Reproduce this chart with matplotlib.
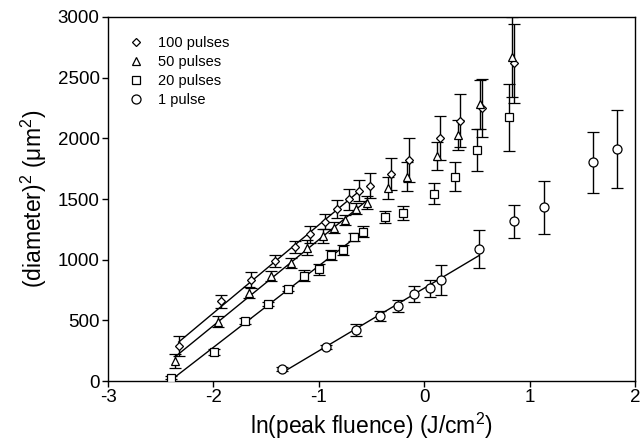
import numpy as np
import matplotlib
matplotlib.use("Agg")
import matplotlib.pyplot as plt
from matplotlib.lines import Line2D

plt.rcParams['font.family'] = ['Liberation Sans', 'DejaVu Sans']
plt.rcParams['mathtext.fontset'] = 'custom'
plt.rcParams['mathtext.rm'] = 'Liberation Sans'
plt.rcParams['mathtext.it'] = 'Liberation Sans'
plt.rcParams['axes.unicode_minus'] = False

# 100 pulses (diamonds)
x100 = [-2.33, -1.93, -1.645, -1.415, -1.23, -1.085, -0.94, -0.83, -0.715, -0.615,
        -0.515, -0.315, -0.14, 0.15, 0.34, 0.55, 0.855]
y100 = [288, 656, 832, 990, 1102, 1209, 1313, 1420, 1498, 1570,
        1610, 1706, 1821, 2005, 2146, 2247, 2618]
e100 = [85, 55, 67, 50, 50, 70, 62, 75, 85, 90,
        105, 135, 180, 180, 217, 238, 323]

# 50 pulses (triangles)
x50 = [-2.36, -1.96, -1.665, -1.45, -1.26, -1.11, -0.96, -0.855, -0.75, -0.645,
       -0.545, -0.34, -0.165, 0.125, 0.32, 0.525, 0.83]
y50 = [168, 490, 726, 868, 970, 1099, 1195, 1264, 1327, 1418,
       1470, 1588, 1684, 1854, 2027, 2280, 2673]
e50 = [58, 45, 45, 40, 40, 62, 55, 45, 45, 45,
       55, 90, 118, 115, 125, 203, 330]

# 20 pulses (squares)
x20 = [-2.40, -1.99, -1.70, -1.48, -1.29, -1.14, -1.0, -0.885, -0.775, -0.67,
       -0.58, -0.37, -0.2, 0.095, 0.295, 0.5, 0.8]
y20 = [28, 239, 497, 635, 760, 868, 920, 1038, 1082, 1186,
       1231, 1352, 1387, 1544, 1684, 1904, 2173]
e20 = [12, 25, 25, 20, 20, 45, 45, 40, 40, 35,
       45, 52, 59, 85, 118, 173, 275]

# 1 pulse (circles)
x1 = [-1.35, -0.93, -0.65, -0.42, -0.245, -0.095, 0.055, 0.16, 0.52,
      0.855, 1.135, 1.60, 1.83]
y1 = [99, 282, 420, 536, 621, 714, 764, 835, 1088,
      1316, 1431, 1802, 1912]
e1 = [15, 15, 50, 45, 50, 65, 70, 125, 155,
      135, 220, 250, 320]

# number of leading points used in each linear fit
n_fit = {'100': 10, '50': 11, '20': 11, '1': 9}

series = [
    ('100 pulses', x100, y100, e100, 'D', 4.5, n_fit['100']),
    ('50 pulses', x50, y50, e50, '^', 6, n_fit['50']),
    ('20 pulses', x20, y20, e20, 's', 5.5, n_fit['20']),
    ('1 pulse', x1, y1, e1, 'o', 6.5, n_fit['1']),
]

fig = plt.figure(figsize=(6.41, 4.46), dpi=100)
ax = fig.add_axes([0.1685, 0.1457, 0.8221, 0.8162])

handles = []
for label, xs, ys, es, mk, ms, n in series:
    xs = np.array(xs)
    ys = np.array(ys)
    ax.errorbar(xs, ys, yerr=es, fmt=mk, ms=ms, mfc='white', mec='black',
                mew=0.9, ecolor='black', elinewidth=1, capsize=4, capthick=1,
                zorder=3)
    # linear fit over the low-fluence points
    p = np.polyfit(xs[:n], ys[:n], 1)
    xf = np.array([xs[0], xs[n - 1]])
    ax.plot(xf, np.polyval(p, xf), color='black', lw=1, zorder=2)
    handles.append(Line2D([], [], ls='none', marker=mk, ms=ms, mfc='white',
                          mec='black', mew=0.9, label=label))

ax.set_xlim(-3, 2)
ax.set_ylim(0, 3000)
ax.set_xticks([-3, -2, -1, 0, 1, 2])
ax.set_yticks([0, 500, 1000, 1500, 2000, 2500, 3000])
ax.tick_params(direction='out', length=4, width=1, labelsize=13.5, pad=2,
               top=False, right=False)
for s in ax.spines.values():
    s.set_linewidth(1)

ax.set_xlabel('ln(peak fluence) (J/cm$^2$)', fontsize=16.5, labelpad=3)
ax.set_ylabel('(diameter)$^2$ ($\\mu$m$^2$)', fontsize=16.5, labelpad=6)

ax.legend(handles=handles, loc='upper left', frameon=False, fontsize=10.5,
          handletextpad=0.9, labelspacing=0.35, borderaxespad=0.9,
          handlelength=1.2)

fig.savefig('out.png', dpi=100)
